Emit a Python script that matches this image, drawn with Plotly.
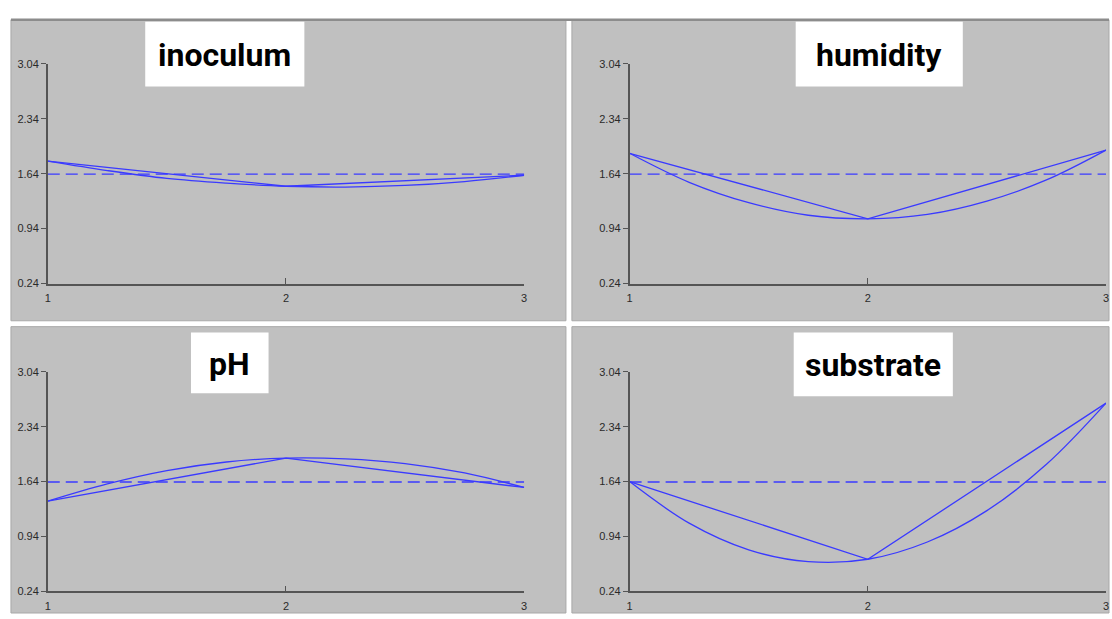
import plotly.graph_objects as go

W, H = 1112, 619

titles = ["inoculum", "humidity", "pH", "substrate"]
levels = [1, 2, 3]
# level means (straight polyline)
inoculum_means = [1.80, 1.48, 1.62]
humidity_means = [1.90, 1.065, 1.94]
ph_means = [1.39, 1.94, 1.565]
substrate_means = [1.64, 0.65, 2.64]
# fitted curve read at these x positions
curve_x = [1.0, 1.25, 1.5, 1.75, 2.0, 2.25, 2.5, 2.75, 3.0]
inoculum_curve = [1.80, 1.68, 1.58, 1.52, 1.48, 1.47, 1.49, 1.54, 1.62]
humidity_curve = [1.90, 1.53, 1.27, 1.11, 1.065, 1.12, 1.29, 1.56, 1.94]
ph_curve = [1.39, 1.61, 1.78, 1.89, 1.94, 1.93, 1.87, 1.75, 1.565]
substrate_curve = [1.64, 1.11, 0.77, 0.62, 0.65, 0.87, 1.27, 1.86, 2.64]
grand_mean = 1.635
y_ticks = [0.24, 0.94, 1.64, 2.34, 3.04]

means = [inoculum_means, humidity_means, ph_means, substrate_means]
curves = [inoculum_curve, humidity_curve, ph_curve, substrate_curve]

def px(x):
    return x / W

def py(y):
    return 1 - y / H

BLUE = "#3a3aff"
AXC = "#555555"
TICKFONT = dict(family="Liberation Sans", size=11, color="#2a2a2a")

# panel geometry in pixels
x_domains = [(45, 524), (630, 1109), (45, 524), (630, 1109)]
y_domains = [(59, 283), (59, 283), (373, 597), (373, 597)]
panels = [(8, 14, 566, 321), (572, 14, 1112, 321), (8, 327, 566, 619), (572, 327, 1112, 619)]
title_boxes = [(143, 16, 303, 82), (797, 16, 965, 82), (189, 333, 267, 395), (795, 333, 955, 398)]

fig = go.Figure()
layout = dict(
    width=W, height=H, margin=dict(l=0, r=0, t=0, b=0),
    paper_bgcolor="white", plot_bgcolor="#c0c0c0", showlegend=False,
)
shapes = []
annotations = []

for i in range(4):
    n = "" if i == 0 else str(i + 1)
    xa, ya = "x" + n, "y" + n
    fig.add_trace(go.Scatter(x=levels, y=means[i], mode="lines",
                             line=dict(color=BLUE, width=1.3), xaxis=xa, yaxis=ya))
    fig.add_trace(go.Scatter(x=curve_x, y=curves[i], mode="lines",
                             line=dict(color=BLUE, width=1.3, shape="spline"), xaxis=xa, yaxis=ya))
    fig.add_trace(go.Scatter(x=[levels[0], levels[-1]], y=[grand_mean, grand_mean], mode="lines",
                             line=dict(color=BLUE, width=1.3, dash="12px,6px"), xaxis=xa, yaxis=ya))
    x0, x1 = x_domains[i]
    y0, y1 = y_domains[i]
    layout["xaxis" + n] = dict(
        domain=[px(x0), px(x1)], range=[1, 3], anchor=ya,
        tickvals=levels, ticktext=[str(v) for v in levels],
        ticks="inside", ticklen=6, tickcolor=AXC, tickwidth=1.2,
        showline=True, linecolor=AXC, linewidth=1.5,
        showgrid=False, zeroline=False, tickfont=TICKFONT, ticklabelstandoff=4,
    )
    layout["yaxis" + n] = dict(
        domain=[py(y1), py(y0)], range=[0.24, 3.04], anchor=xa,
        tickvals=y_ticks, ticktext=["%.2f" % v for v in y_ticks],
        ticks="outside", ticklen=5, tickcolor=AXC, tickwidth=1.2,
        showline=True, linecolor=AXC, linewidth=1.5,
        showgrid=False, zeroline=False, tickfont=TICKFONT, ticklabelstandoff=0,
    )
    a, b, c, d = panels[i]
    shapes.append(dict(type="rect", xref="paper", yref="paper",
                       x0=px(a), x1=px(c), y0=py(d), y1=py(b),
                       fillcolor="#c0c0c0", line=dict(color="#a8a8a8", width=1), layer="below"))
    a, b, c, d = title_boxes[i]
    shapes.append(dict(type="rect", xref="paper", yref="paper",
                       x0=px(a), x1=px(c), y0=py(d), y1=py(b),
                       fillcolor="white", line=dict(width=0), layer="above"))
    annotations.append(dict(xref="paper", yref="paper", x=px((a + c) / 2), y=py((b + d) / 2 + 1),
                            text=titles[i], showarrow=False, xanchor="center", yanchor="middle",
                            font=dict(family="Roboto", size=32, color="black", weight=700)))

# darker top border
shapes.append(dict(type="line", xref="paper", yref="paper", x0=px(8), x1=1, y0=py(14), y1=py(14),
                   line=dict(color="#8c8c8c", width=2.5), layer="above"))

layout["shapes"] = shapes
layout["annotations"] = annotations
fig.update_layout(**layout)
fig.write_html("out.html")
